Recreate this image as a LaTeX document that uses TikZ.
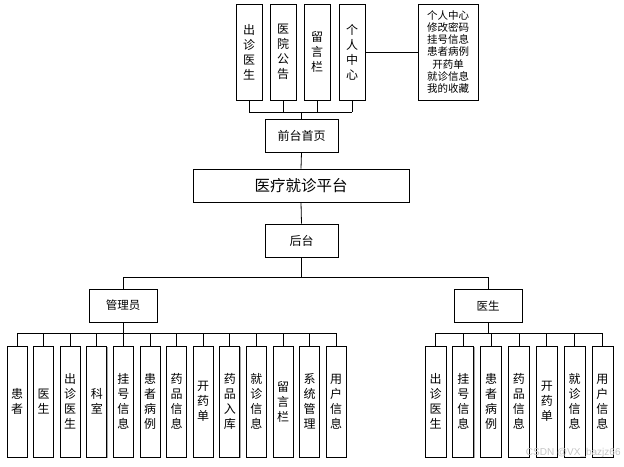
\documentclass[tikz,border=0pt]{standalone}
\usepackage{fontspec}
\setmainfont{Liberation Sans}
\newfontfamily\cjk{Noto Sans CJK SC}
\usetikzlibrary{shadows}
\begin{document}
\begin{tikzpicture}[x=1pt,y=-1pt,line width=0.8pt,
  box/.style={draw=black,fill=white,inner sep=0pt,align=center,
    font=\cjk\fontsize{12}{15}\selectfont,
    drop shadow={shadow xshift=0.8pt,shadow yshift=-0.8pt,fill=gray!70,opacity=1}},
  tallbox/.style={box,minimum width=26pt,minimum height=96pt},
  widebox/.style={box,minimum width=73pt,minimum height=33pt},
  leafbox/.style={box,minimum width=20pt,minimum height=111pt}]
\useasboundingbox (0,0) rectangle (624,466);
% front side
\node[tallbox] (t1) at (249,52) {出\\诊\\医\\生};
\node[tallbox] (t2) at (283,52) {医\\院\\公\\告};
\node[tallbox] (t3) at (317,52) {留\\言\\栏};
\node[tallbox] (t4) at (352,52) {个\\人\\中\\心};
\node[box,minimum width=60pt,minimum height=96pt,font=\cjk\fontsize{10.5}{12.2}\selectfont] (info) at (448,52)
  {个人中心\\修改密码\\挂号信息\\患者病例\\开药单\\就诊信息\\我的收藏};
\node[widebox] (front) at (301.5,135.5) {前台首页};
\node[box,minimum width=216pt,minimum height=33pt,font=\cjk\fontsize{15.5}{18}\selectfont] (main) at (301,185.5) {医疗就诊平台};
\node[widebox] (back) at (301.5,240.5) {后台};
\coordinate (busT) at (0,112);
\foreach \i in {1,...,4}{\draw (t\i.south) -- (t\i.south |- busT);}
\draw (t1.south |- busT) -- (t4.south |- busT);
\draw (front.north |- busT) -- (front.north);
\draw (t4.east) -- (info.west);
\draw (front.south) -- (main.north);
\draw (main.south) -- (back.north);
% back side
\node[box,minimum width=68pt,minimum height=33pt,font=\cjk\fontsize{11.5}{14}\selectfont] (admin) at (123,305.5) {管理员};
\node[box,minimum width=68pt,minimum height=33pt,font=\cjk\fontsize{11.5}{14}\selectfont] (doctor) at (488,305.5) {医生};
\coordinate (busB) at (0,277);
\draw (back.south) -- (back.south |- busB);
\draw (admin.north) -- (admin.north |- busB) -- (doctor.north |- busB) -- (doctor.north);
\coordinate (busL) at (0,333);
\foreach \t [count=\i] in {患\\者,医\\生,出\\诊\\医\\生,科\\室,挂\\号\\信\\息,患\\者\\病\\例,药\\品\\信\\息,
  开\\药\\单,药\\品\\入\\库,就\\诊\\信\\息,留\\言\\栏,系\\统\\管\\理,用\\户\\信\\息}{
  \node[leafbox] (a\i) at ({17+26.6*(\i-1)},401.5) {\t};
  \draw (a\i.north) -- (a\i.north |- busL);}
\draw (a1.north |- busL) -- (a13.north |- busL);
\draw (admin.south) -- (admin.south |- busL);
\foreach \t [count=\i] in {出\\诊\\医\\生,挂\\号\\信\\息,患\\者\\病\\例,药\\品\\信\\息,开\\药\\单,就\\诊\\信\\息,用\\户\\信\\息}{
  \node[leafbox,minimum width=21pt] (d\i) at ({435.5+27.83*(\i-1)},401.5) {\t};
  \draw (d\i.north) -- (d\i.north |- busL);}
\draw (d1.north |- busL) -- (d7.north |- busL);
\draw (doctor.south) -- (doctor.south |- busL);
\node[text=gray!45,font=\fontsize{10}{12}\selectfont,anchor=east,inner sep=0pt] (mark) at (621,453) {CSDN @VX\_bazjz66};
\end{tikzpicture}
\end{document}
